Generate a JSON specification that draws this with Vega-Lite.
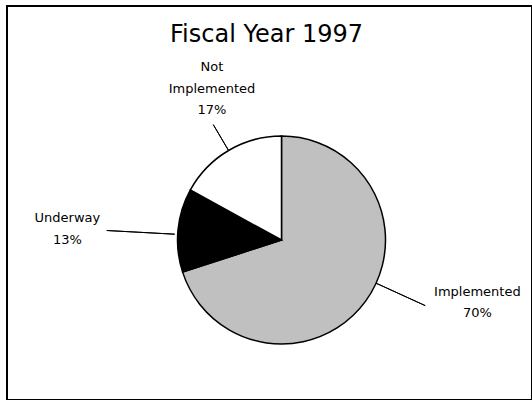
{
  "$schema": "https://vega.github.io/schema/vega-lite/v6.json",
  "width": 525,
  "height": 394,
  "autosize": {"type": "none"},
  "padding": {"left": 7, "top": 6, "right": 0, "bottom": 0},
  "background": "white",
  "view": {"stroke": "black", "strokeWidth": 2, "fill": "white"},
  "title": {
    "text": "Fiscal Year 1997",
    "font": "DejaVu Sans",
    "fontSize": 24,
    "fontWeight": "normal",
    "color": "black",
    "anchor": "middle",
    "frame": "group",
    "orient": "top",
    "baseline": "alphabetic",
    "offset": -37,
    "dx": -3,
    "dy": 23
  },
  "data": {
    "values": [
      {"status": "Implemented", "value": 70, "order": 1},
      {"status": "Underway", "value": 13, "order": 2},
      {"status": "Not Implemented", "value": 17, "order": 3}
    ]
  },
  "transform": [
    {"stack": "value", "groupby": [], "sort": [{"field": "order", "order": "ascending"}], "as": ["v0", "v1"]},
    {"calculate": "(datum.v0 + datum.v1) / 2", "as": "mid"},
    {"calculate": "datum.status + ' ' + datum.value + '%'", "as": "label"}
  ],
  "layer": [
    {
      "mark": {"type": "arc", "outerRadius": 104, "stroke": "black", "strokeWidth": 1.5, "x": {"expr": "width / 2 + 12"}, "y": {"expr": "height / 2 + 37"}},
      "encoding": {
        "theta": {"field": "v0", "type": "quantitative", "stack": null, "scale": {"domain": [0, 100]}},
        "theta2": {"field": "v1"},
        "color": {
          "field": "status",
          "type": "nominal",
          "scale": {"domain": ["Implemented", "Underway", "Not Implemented"], "range": ["#c0c0c0", "#000000", "#ffffff"]},
          "legend": null
        }
      }
    },
    {
      "transform": [{"filter": "datum.status === 'Not Implemented'"}],
      "mark": {"type": "arc", "radius": 134, "radius2": 104, "stroke": "black", "strokeWidth": 1, "fill": null, "x": {"expr": "width / 2 + 12"}, "y": {"expr": "height / 2 + 37"}},
      "encoding": {
        "theta": {"field": "mid", "type": "quantitative", "stack": null},
        "theta2": {"field": "mid"}
      }
    },
    {
      "transform": [{"filter": "datum.status === 'Underway'"}],
      "mark": {"type": "arc", "radius": 175, "radius2": 107, "stroke": "black", "strokeWidth": 1, "fill": null, "thetaOffset": -0.04, "theta2Offset": -0.04, "x": {"expr": "width / 2 + 12"}, "y": {"expr": "height / 2 + 37"}},
      "encoding": {
        "theta": {"field": "mid", "type": "quantitative", "stack": null},
        "theta2": {"field": "mid"}
      }
    },
    {
      "transform": [{"filter": "datum.status === 'Implemented'"}],
      "mark": {"type": "arc", "radius": 158, "radius2": 104, "stroke": "black", "strokeWidth": 1, "fill": null, "thetaOffset": -0.2, "theta2Offset": -0.2, "x": {"expr": "width / 2 + 12"}, "y": {"expr": "height / 2 + 37"}},
      "encoding": {
        "theta": {"field": "mid", "type": "quantitative", "stack": null},
        "theta2": {"field": "mid"}
      }
    },
    {
      "transform": [{"filter": "datum.status === 'Not Implemented'"}],
      "mark": {"type": "text", "radius": 170, "dx": 17, "dy": -26.5, "align": "center", "baseline": "middle", "lineBreak": " ", "lineHeight": 21.5, "font": "DejaVu Sans", "fontSize": 13, "color": "black", "x": {"expr": "width / 2 + 12"}, "y": {"expr": "height / 2 + 37"}},
      "encoding": {
        "theta": {"field": "mid", "type": "quantitative", "stack": null},
        "text": {"field": "label"}
      }
    },
    {
      "transform": [{"filter": "datum.status === 'Underway'"}],
      "mark": {"type": "text", "radius": 210, "dx": -5, "dy": -2, "align": "center", "baseline": "middle", "lineBreak": " ", "lineHeight": 21.5, "font": "DejaVu Sans", "fontSize": 13, "color": "black", "x": {"expr": "width / 2 + 12"}, "y": {"expr": "height / 2 + 37"}},
      "encoding": {
        "theta": {"field": "mid", "type": "quantitative", "stack": null},
        "text": {"field": "label"}
      }
    },
    {
      "transform": [{"filter": "datum.status === 'Implemented'"}],
      "mark": {"type": "text", "radius": 205, "dx": 30, "dy": -68.5, "align": "center", "baseline": "middle", "lineBreak": " ", "lineHeight": 21.5, "font": "DejaVu Sans", "fontSize": 13, "color": "black", "x": {"expr": "width / 2 + 12"}, "y": {"expr": "height / 2 + 37"}},
      "encoding": {
        "theta": {"field": "mid", "type": "quantitative", "stack": null},
        "text": {"field": "label"}
      }
    }
  ]
}
